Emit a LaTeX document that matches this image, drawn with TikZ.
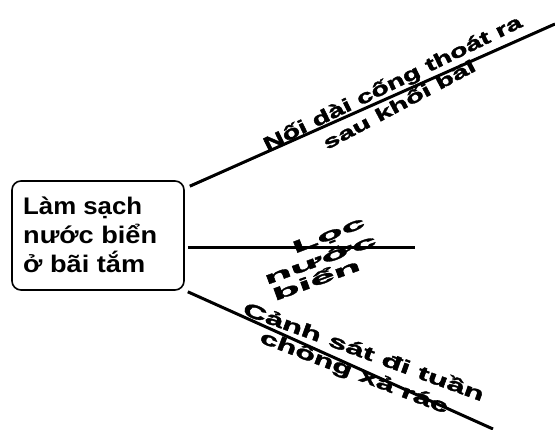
\documentclass[tikz,border=0pt]{standalone}
\usepackage{fontspec}
\setmainfont{Liberation Sans}
\newfontfamily\heavyfont[BoldFeatures={FakeBold=1.6}]{Liberation Sans}
\usepackage{graphicx}
\newcommand\fitw[3]{\resizebox{#1}{\height}{\fontsize{#2}{#2}\selectfont\bfseries #3}}
\newcommand\fith[3]{\resizebox{#1}{\height}{\fontsize{#2}{#2}\selectfont\heavyfont\bfseries #3}}
\begin{document}
\begin{tikzpicture}[x=1pt,y=-1pt,
  conn/.style={line width=3pt},
  lbl/.style={inner sep=0pt, anchor=center}]
\useasboundingbox (0,0) rectangle (555,430);
% root box
\node[draw, line width=1.6pt, rounded corners=9pt, minimum width=172pt,
      minimum height=109pt, inner sep=0pt] (root) at (98,235.5) {};
\node[lbl, anchor=base west] (r1) at (23,215) {\fitw{119pt}{24}{Làm sạch}};
\node[lbl, anchor=base west] (r2) at (23,244) {\fitw{134pt}{24}{nước biển}};
\node[lbl, anchor=base west] (r3) at (23,273) {\fitw{122pt}{24}{ở bãi tắm}};
% branch ends
\coordinate (e1) at (555,24);
\coordinate (e2) at (415,248);
\coordinate (e3) at (493,429);
\draw[conn] ([shift={(5,6)}]root.north east) -- (e1);
\draw[conn] ([shift={(3,12.5)}]root.east) -- (e2);
\draw[conn] ([shift={(3,1)}]root.south east) -- (e3);
% top label
\node[lbl, rotate=26] (t1) at (393,84) {\fith{285pt}{19}{Nối dài cống thoát ra}};
\node[lbl, rotate=28] (t2) at (399,104) {\fith{170pt}{18}{sau khối bãi}};
% middle label
\node[lbl, rotate=21] (m1) at (329,236) {\fith{76pt}{17}{Lọc}};
\node[lbl, rotate=20] (m2) at (320,259) {\fith{118pt}{17}{nước}};
\node[lbl, rotate=20] (m3) at (316,279) {\fith{92pt}{17}{biển}};
% bottom label
\node[lbl, rotate=-20] (b1) at (364,351) {\fith{255pt}{19}{Cảnh sát đi tuần}};
\node[lbl, rotate=-21] (b2) at (354,373) {\fith{200pt}{19}{chống xả rác}};
\end{tikzpicture}
\end{document}
